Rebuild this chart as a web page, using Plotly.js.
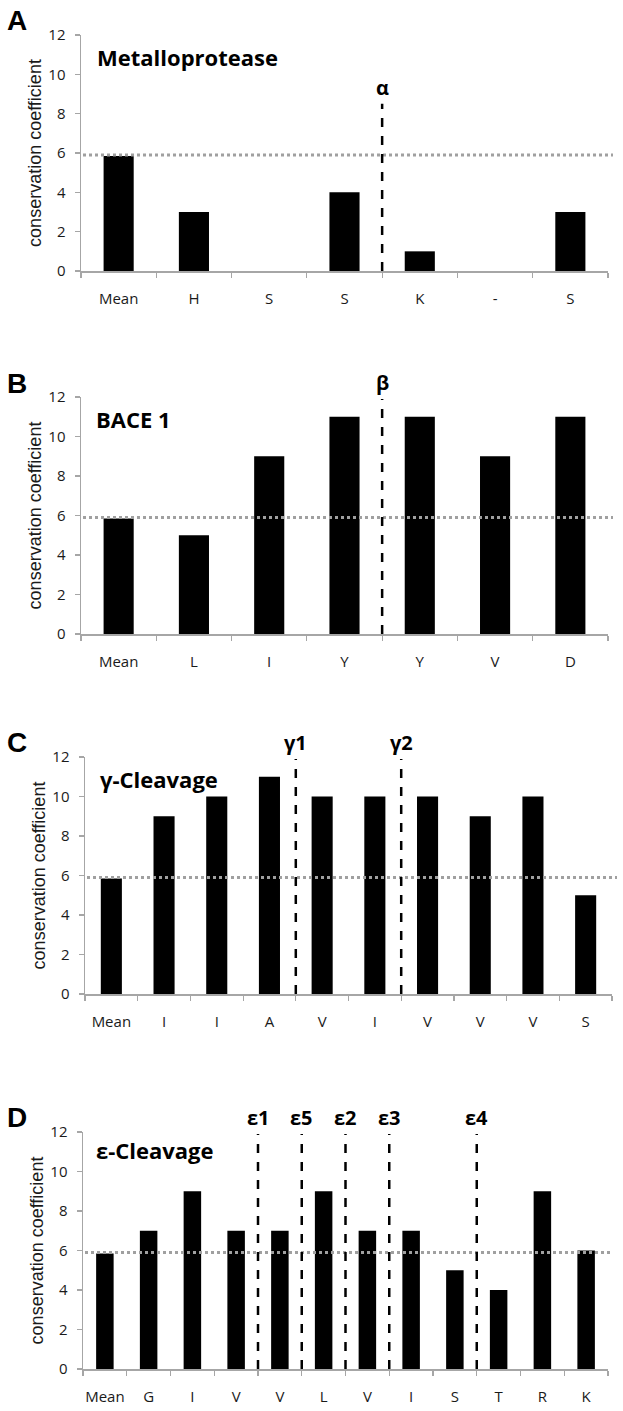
<!DOCTYPE html>
<html>
<head>
<meta charset="utf-8">
<script src="https://cdn.plot.ly/plotly-3.0.1.min.js"></script>
<style>html,body{margin:0;padding:0;background:#fff;}#chart{width:623px;height:1411px;}</style>
</head>
<body>
<div id="chart"></div>
<script>
// ---- Data ----
const catsA = ['Mean','H','S','S','K','-','S'];
const valsA = [5.85, 3, 0, 4, 1, 0, 3];
const cleavLabelsA = ['α'];
const cleavPosA = [3.5];

const catsB = ['Mean','L','I','Y','Y','V','D'];
const valsB = [5.85, 5, 9, 11, 11, 9, 11];
const cleavLabelsB = ['β'];
const cleavPosB = [3.5];

const catsC = ['Mean','I','I','A','V','I','V','V','V','S'];
const valsC = [5.85, 9, 10, 11, 10, 10, 10, 9, 10, 5];
const cleavLabelsC = ['γ1','γ2'];
const cleavPosC = [3.5, 5.5];

const catsD = ['Mean','G','I','V','V','L','V','I','S','T','R','K'];
const valsD = [5.85, 7, 9, 7, 7, 9, 7, 7, 5, 4, 9, 6];
const cleavLabelsD = ['ε1','ε5','ε2','ε3','ε4'];
const cleavPosD = [3.5, 4.5, 5.5, 6.5, 8.5];

const meanValue = 5.9;
const panelLetters = ['A','B','C','D'];
const panelTitles = ['Metalloprotease','BACE 1','γ-Cleavage','ε-Cleavage'];

// ---- Layout geometry (pixels) ----
const W = 623, H = 1411;
const panels = [
  {cats: catsA, vals: valsA, cl: cleavLabelsA, cp: cleavPosA, x0: 81, x1: 608, yTop: 35, yBot: 271, dashTop: 8.5, letterY: 20, titleY: 57, titleX: 95},
  {cats: catsB, vals: valsB, cl: cleavLabelsB, cp: cleavPosB, x0: 81, x1: 608, yTop: 397, yBot: 634, dashTop: 11.9, letterY: 383, titleY: 419, titleX: 94},
  {cats: catsC, vals: valsC, cl: cleavLabelsC, cp: cleavPosC, x0: 85, x1: 612, yTop: 757, yBot: 994, dashTop: 11.9, letterY: 742, titleY: 779, titleX: 98},
  {cats: catsD, vals: valsD, cl: cleavLabelsD, cp: cleavPosD, x0: 83, x1: 608, yTop: 1132, yBot: 1369, dashTop: 11.9, letterY: 1117, titleY: 1150, titleX: 94}
];

const tickFont = {family: 'Open Sans, Liberation Sans, sans-serif', size: 15, color: '#1a1a1a'};
const data = [];
const layout = {
  width: W, height: H,
  margin: {l: 0, r: 0, t: 0, b: 0},
  paper_bgcolor: '#fff', plot_bgcolor: '#fff',
  showlegend: false,
  shapes: [], annotations: []
};

panels.forEach((p, i) => {
  const sfx = i === 0 ? '' : String(i + 1);
  const xa = 'x' + sfx, ya = 'y' + sfx;
  const idx = p.cats.map((_, k) => k);
  data.push({
    type: 'bar', x: idx, y: p.vals, xaxis: xa, yaxis: ya,
    marker: {color: '#000'}, width: 0.4, hoverinfo: 'skip'
  });
  const n = p.cats.length;
  const bounds = [];
  for (let k = 0; k <= n; k++) bounds.push(k - 0.5);
  layout['xaxis' + sfx] = {
    domain: [p.x0 / W, p.x1 / W], anchor: ya,
    range: [-0.5, n - 0.5], tickmode: 'array', tickvals: idx, ticktext: p.cats,
    ticks: '', showgrid: false, zeroline: false,
    showline: true, linecolor: '#a6a6a6', linewidth: 1.5,
    tickfont: tickFont, ticklabelstandoff: 13,
    minor: {tickmode: 'array', tickvals: bounds, ticks: 'outside', ticklen: 5, tickwidth: 1.2, tickcolor: '#a6a6a6', showgrid: false},
    fixedrange: true
  };
  layout['yaxis' + sfx] = {
    domain: [1 - p.yBot / H, 1 - p.yTop / H], anchor: xa,
    range: [0, 12], dtick: 2, tick0: 0,
    ticks: 'outside', ticklen: 5, tickwidth: 1.2, tickcolor: '#a6a6a6',
    showline: true, linecolor: '#a6a6a6', linewidth: 1.5,
    showgrid: false, zeroline: false, tickfont: tickFont, ticklabelstandoff: 6,
    title: {text: 'conservation coefficient', font: {family: 'Liberation Sans, Arial, sans-serif', size: 18, color: '#1a1a1a'}, standoff: 2},
    fixedrange: true
  };
  // mean dotted line
  layout.shapes.push({
    type: 'line', xref: 'paper', yref: ya,
    x0: (p.x0 + 2) / W, x1: (p.x1 + 5) / W, y0: meanValue, y1: meanValue,
    line: {color: '#a0a0a0', width: 3, dash: 'dot'}, layer: 'above'
  });
  // cleavage dashed lines
  p.cp.forEach((pos, k) => {
    layout.shapes.push({
      type: 'line', xref: xa, yref: ya, x0: pos, x1: pos, y0: 0, y1: p.dashTop,
      line: {color: '#000', width: 2.5, dash: 'dash'}, layer: 'above'
    });
    layout.annotations.push({
      xref: xa, yref: ya, x: pos, y: p.dashTop, yanchor: 'bottom', yshift: 1,
      text: '<b>' + p.cl[k] + '</b>', showarrow: false,
      font: {family: 'Open Sans, Liberation Sans, sans-serif', size: 20, color: '#000'}
    });
  });
  // panel letter
  layout.annotations.push({
    xref: 'paper', yref: 'paper', x: 5 / W, y: 1 - p.letterY / H, xanchor: 'left', yanchor: 'middle',
    text: '<b>' + panelLetters[i] + '</b>', showarrow: false,
    font: {family: 'Liberation Sans, Arial, sans-serif', size: 28, color: '#000'}
  });
  // panel title
  layout.annotations.push({
    xref: 'paper', yref: 'paper', x: p.titleX / W, y: 1 - p.titleY / H, xanchor: 'left', yanchor: 'middle',
    text: '<b>' + panelTitles[i] + '</b>', showarrow: false,
    font: {family: 'Open Sans, Liberation Sans, sans-serif', size: 22, color: '#000'}
  });
});

Plotly.newPlot('chart', data, layout, {displayModeBar: false, staticPlot: true});
</script>
</body>
</html>
